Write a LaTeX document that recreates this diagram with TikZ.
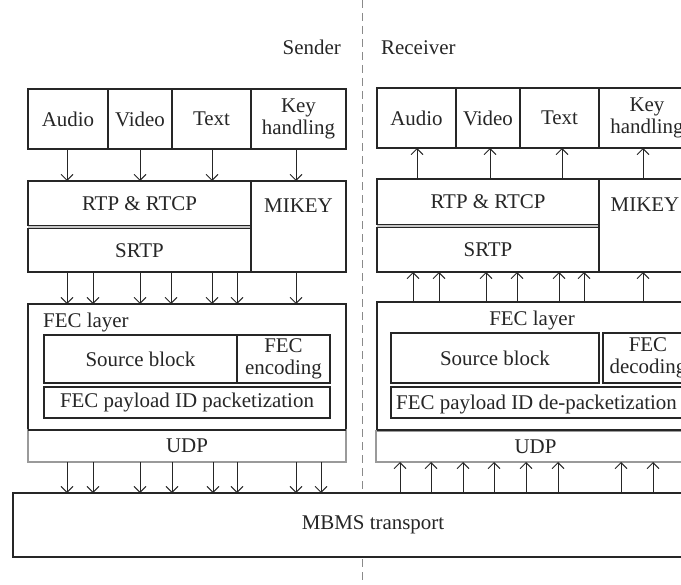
\documentclass[tikz,border=0pt]{standalone}
\usepackage{fontspec}
\setmainfont{Liberation Serif}
\usetikzlibrary{arrows.meta}
\definecolor{ink}{HTML}{262626}
\definecolor{udpgray}{HTML}{9A9A9A}
\definecolor{dashgray}{HTML}{8A8A8A}
\tikzset{
  blk/.style={draw=ink, line width=1.1bp, fill=white, rectangle, inner sep=0pt, outer sep=0pt,
    font=\fontsize{21}{22}\selectfont, text=ink, align=center},
  udpblk/.style={blk, draw=udpgray},
  lbl/.style={inner sep=0pt, font=\fontsize{21}{22}\selectfont, text=ink},
  arr/.style={draw=ink, line width=0.9bp, -{Straight Barb[length=6bp,width=12bp,line width=0.9bp]}},
}
\newcommand{\boxat}[7]{% name, x1, y1, x2, y2, style, text
  \node[#6, minimum width={(#4-#2)*1bp}, minimum height={(#5-#3)*1bp}] (#1) at ({(#2+#4)/2},{(#3+#5)/2}) {#7};}
\begin{document}
\begin{tikzpicture}[x=1bp,y=-1bp]
\useasboundingbox (0,0) rectangle (681,585);
\clip (0,0) rectangle (681,585);
% divider
\draw[dashgray, line width=0.9bp, dash pattern=on 8bp off 5bp] (362,0) coordinate (dtop) -- (362,585) coordinate (dbot);
% titles
\node[lbl, anchor=base east] (sender) at (341,55) {Sender};
\node[lbl, anchor=base west] (receiver) at (381,55) {Receiver};
% ---------- Sender ----------
\boxat{sAudio}{28}{89}{108}{149}{blk}{Audio}
\boxat{sVideo}{108}{89}{172}{149}{blk}{Video}
\boxat{sText}{172}{89}{251}{149}{blk}{Text}
\boxat{sKey}{251}{89}{346}{149}{blk}{Key\\handling}
\boxat{sRTP}{28}{181}{251}{225.5}{blk}{RTP \& RTCP}
\boxat{sSRTP}{28}{228.5}{251}{272}{blk}{SRTP}
\fill[gray!45] (sRTP.south west) rectangle (sSRTP.north east);
\draw[ink, line width=1.1bp] (sRTP.south west) -- (sRTP.south east) (sSRTP.north west) -- (sSRTP.north east);
\boxat{sMIKEY}{251}{181}{346}{272}{blk}{}
\node[lbl, anchor=base] (sMIKEYt) at (298.5,212) {MIKEY};
\boxat{sFEC}{28}{304}{346}{430}{blk}{}
\node[lbl, anchor=base west] (sFECt) at (43,327) {FEC layer};
\boxat{sSrc}{44}{335}{237}{383}{blk}{Source block}
\boxat{sEnc}{237}{335}{330}{383}{blk}{FEC\\encoding}
\boxat{sPay}{44}{387}{330}{418}{blk}{FEC payload ID packetization}
\boxat{sUDP}{28}{430}{346}{462}{udpblk}{UDP}
\draw[ink, line width=1.1bp] (sFEC.south west) -- (sFEC.south east);
% ---------- Receiver ----------
\boxat{rAudio}{377}{88}{456}{148}{blk}{Audio}
\boxat{rVideo}{456}{88}{520}{148}{blk}{Video}
\boxat{rText}{520}{88}{599}{148}{blk}{Text}
\boxat{rKey}{599}{88}{695}{148}{blk}{Key\\handling}
\boxat{rRTP}{377}{179}{599}{224.5}{blk}{RTP \& RTCP}
\boxat{rSRTP}{377}{227.5}{599}{272}{blk}{SRTP}
\fill[gray!45] (rRTP.south west) rectangle (rSRTP.north east);
\draw[ink, line width=1.1bp] (rRTP.south west) -- (rRTP.south east) (rSRTP.north west) -- (rSRTP.north east);
\boxat{rMIKEY}{599}{179}{695}{272}{blk}{}
\node[lbl, anchor=base] (rMIKEYt) at (645,211) {MIKEY};
\boxat{rFEC}{377}{302}{695}{430}{blk}{}
\node[lbl, anchor=base] (rFECt) at (532,325) {FEC layer};
\boxat{rSrc}{391}{333}{599}{383}{blk}{Source block}
\boxat{rDec}{603}{333}{693}{383}{blk}{FEC\\decoding}
\boxat{rPay}{391}{387}{700}{418}{blk}{}
\node[lbl, anchor=base west] (rPayt) at (396,409) {FEC payload ID de-packetization};
\boxat{rUDP}{376}{431}{695}{462}{udpblk}{UDP}
\draw[ink, line width=1.1bp] (rFEC.south west) -- (rFEC.south east);
% ---------- Transport ----------
\boxat{mbms}{13}{493}{733}{557}{blk}{MBMS transport}
% ---------- Sender arrows ----------
\foreach \x in {67,140,212,296} \draw[arr] (\x,0 |- sAudio.south) -- (\x,0 |- sRTP.north);
\foreach \x in {67,93,140,171,212,237,296} \draw[arr] (\x,0 |- sSRTP.south) -- (\x,0 |- sFEC.north);
\foreach \x in {67,93,140,172,213,237,296,321} \draw[arr] (\x,0 |- sUDP.south) -- (\x,0 |- mbms.north);
% ---------- Receiver arrows ----------
\foreach \x in {417,490,562,643} \draw[arr] (\x,0 |- rRTP.north) -- (\x,0 |- rAudio.south);
\foreach \x in {413,439,486,517,559,584,643} \draw[arr] (\x,0 |- rFEC.north) -- (\x,0 |- rSRTP.south);
\foreach \x in {400,431,463,494,526,558,621,653} \draw[arr] (\x,0 |- mbms.north) -- (\x,0 |- rUDP.south);
\end{tikzpicture}
\end{document}
